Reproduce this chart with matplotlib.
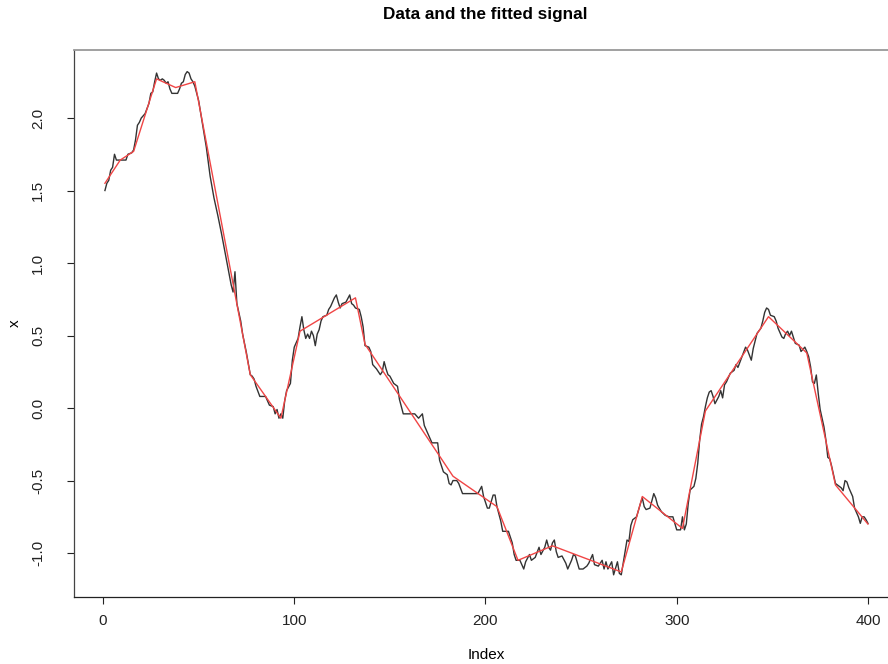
import matplotlib
matplotlib.use("Agg")
import matplotlib.pyplot as plt

idx = [1, 2, 3, 4, 5, 6, 7, 8, 12, 13, 15, 16, 17, 18, 19, 20, 22, 24, 25, 26,
       27, 28, 29, 30, 31, 32, 33, 34, 35, 36, 39, 40, 41, 42, 43, 44, 45, 46, 47, 48,
       50, 52, 54, 56, 58, 60, 62, 64, 66, 67, 68, 69, 70, 72, 73, 75, 77, 78, 79, 80,
       82, 85, 86, 87, 89, 90, 91, 92, 93, 94, 95, 96, 98, 99, 100, 102, 103, 104, 105, 106,
       107, 108, 109, 110, 111, 112, 113, 114, 115, 117, 118, 119, 120, 121, 122, 123, 124, 125, 127, 129,
       130, 131, 132, 134, 135, 136, 137, 139, 140, 141, 143, 145, 146, 147, 148, 149, 150, 152, 154, 155,
       156, 157, 163, 165, 167, 168, 170, 172, 175, 176, 178, 180, 181, 182, 183, 185, 186, 188, 196, 198,
       199, 201, 202, 204, 205, 206, 208, 209, 212, 214, 215, 216, 218, 220, 221, 223, 224, 226, 228, 229,
       231, 232, 233, 234, 235, 236, 237, 238, 240, 242, 243, 245, 246, 247, 249, 251, 253, 254, 256, 257,
       259, 261, 262, 263, 264, 266, 267, 269, 270, 271, 272, 274, 275, 276, 277, 279, 281, 282, 283, 284,
       286, 288, 289, 290, 292, 294, 296, 298, 299, 300, 302, 303, 304, 305, 306, 307, 309, 310, 311, 312,
       313, 314, 315, 316, 317, 318, 319, 320, 322, 323, 324, 325, 326, 327, 328, 330, 331, 332, 334, 336,
       337, 339, 340, 342, 344, 345, 346, 347, 348, 349, 351, 352, 353, 355, 356, 357, 358, 359, 360, 362,
       364, 365, 367, 368, 369, 370, 371, 372, 373, 374, 375, 377, 378, 379, 380, 381, 383, 385, 386, 387,
       388, 389, 390, 392, 393, 395, 396, 397, 398, 399, 400]
x = [1.50, 1.55, 1.57, 1.64, 1.66, 1.75, 1.71, 1.71, 1.71, 1.75, 1.76, 1.78, 1.85, 1.95, 1.97, 2.00, 2.03, 2.10, 2.17, 2.18,
     2.25, 2.31, 2.27, 2.26, 2.27, 2.26, 2.24, 2.25, 2.20, 2.17, 2.17, 2.20, 2.24, 2.25, 2.30, 2.32, 2.31, 2.27, 2.25, 2.22,
     2.12, 1.96, 1.80, 1.60, 1.45, 1.33, 1.20, 1.06, 0.92, 0.85, 0.80, 0.94, 0.72, 0.60, 0.51, 0.38, 0.23, 0.22, 0.20, 0.15,
     0.08, 0.08, 0.05, 0.02, 0.01, -0.04, -0.01, -0.07, -0.04, -0.07, 0.05, 0.12, 0.17, 0.33, 0.42, 0.48, 0.56, 0.63, 0.54, 0.48,
     0.51, 0.48, 0.53, 0.50, 0.43, 0.51, 0.54, 0.60, 0.63, 0.64, 0.68, 0.70, 0.73, 0.76, 0.78, 0.73, 0.69, 0.72, 0.73, 0.78,
     0.72, 0.71, 0.69, 0.68, 0.63, 0.56, 0.43, 0.42, 0.39, 0.30, 0.27, 0.23, 0.25, 0.32, 0.27, 0.23, 0.22, 0.17, 0.15, 0.06,
     0.01, -0.04, -0.04, -0.07, -0.04, -0.12, -0.18, -0.24, -0.24, -0.36, -0.44, -0.46, -0.52, -0.53, -0.50, -0.50, -0.52, -0.59, -0.59, -0.54,
     -0.61, -0.69, -0.69, -0.60, -0.60, -0.68, -0.78, -0.85, -0.85, -0.93, -1.01, -1.05, -1.05, -1.11, -1.06, -1.01, -1.05, -1.03, -0.96, -1.01,
     -0.96, -0.91, -0.96, -0.98, -0.93, -0.91, -0.99, -1.03, -1.02, -1.07, -1.11, -1.05, -1.01, -1.02, -1.11, -1.11, -1.09, -1.07, -1.01, -1.08,
     -1.09, -1.05, -1.11, -1.06, -1.11, -1.06, -1.15, -1.06, -1.14, -1.15, -1.07, -0.91, -0.92, -0.81, -0.77, -0.75, -0.66, -0.62, -0.68, -0.70,
     -0.69, -0.59, -0.62, -0.67, -0.715, -0.74, -0.75, -0.75, -0.795, -0.84, -0.84, -0.75, -0.84, -0.80, -0.66, -0.565, -0.54, -0.485, -0.38, -0.22,
     -0.11, -0.06, 0.01, 0.07, 0.11, 0.12, 0.08, 0.03, 0.08, 0.12, 0.07, 0.16, 0.18, 0.21, 0.24, 0.26, 0.30, 0.28, 0.35, 0.42,
     0.40, 0.33, 0.41, 0.515, 0.55, 0.60, 0.66, 0.69, 0.68, 0.64, 0.63, 0.60, 0.55, 0.49, 0.48, 0.515, 0.53, 0.50, 0.53, 0.446,
     0.434, 0.39, 0.42, 0.39, 0.354, 0.285, 0.18, 0.17, 0.228, 0.10, -0.01, -0.13, -0.22, -0.34, -0.35, -0.40, -0.52, -0.54, -0.55, -0.57,
     -0.50, -0.51, -0.55, -0.61, -0.69, -0.75, -0.795, -0.75, -0.75, -0.77, -0.795]

# fitted signal (knots)
fit_idx = [1, 9, 16, 28, 38, 48, 77, 93, 103, 132, 137, 183, 206, 217, 235, 271, 282, 303, 315, 348, 368, 383, 400]
fit_val = [1.55, 1.71, 1.77, 2.27, 2.21, 2.25, 0.23, -0.07, 0.53, 0.76, 0.44, -0.47, -0.68, -1.05, -0.95, -1.13, -0.61, -0.83, -0.02, 0.63, 0.38, -0.53, -0.80]

plt.rcParams['font.family'] = ['Liberation Sans', 'DejaVu Sans']

fig = plt.figure(figsize=(8.88, 6.64), dpi=100)
ax = fig.add_axes([0.0838, 0.1009, 0.928, 0.8238])

ax.plot(idx, x, color='#333333', linewidth=1.0)
ax.plot(fit_idx, fit_val, color='#f04545', linewidth=1.0)

ax.set_xlim(-14.96, 415.96)
ax.set_ylim(-1.303, 2.469)
ax.set_xticks([0, 100, 200, 300, 400])
ax.set_yticks([-1.0, -0.5, 0.0, 0.5, 1.0, 1.5, 2.0])
ax.set_yticklabels(['-1.0', '-0.5', '0.0', '0.5', '1.0', '1.5', '2.0'], rotation=90, va='center')
ax.tick_params(axis='both', direction='out', length=5, width=0.8, labelsize=11, colors='#222222')
ax.tick_params(axis='x', pad=7)
ax.tick_params(axis='y', pad=16)
ax.spines['right'].set_visible(False)
ax.spines['top'].set_color('#999999')
ax.spines['top'].set_linewidth(1.3)
ax.spines['left'].set_color('#444444')
ax.spines['left'].set_linewidth(0.9)
ax.spines['bottom'].set_color('#222222')
ax.spines['bottom'].set_linewidth(0.9)

fig.text(0.548, 0.014, 'Index', ha='center', va='center', fontsize=11)
fig.text(0.017, 0.513, 'x', ha='center', va='center', fontsize=11, rotation=90)
fig.text(0.546, 0.978, 'Data and the fitted signal', ha='center', va='center',
         fontsize=12.3, fontweight='bold')

plt.savefig('out.png', dpi=100)
